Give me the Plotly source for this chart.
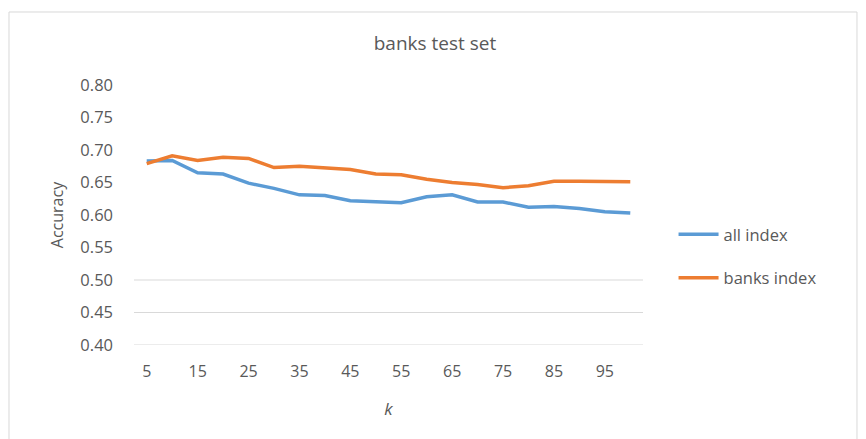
import plotly.graph_objects as go

k_values = [5, 10, 15, 20, 25, 30, 35, 40, 45, 50, 55, 60, 65, 70, 75, 80, 85, 90, 95, 100]
all_index = [0.683, 0.684, 0.665, 0.663, 0.649, 0.641, 0.631, 0.630, 0.622, 0.621,
             0.619, 0.628, 0.631, 0.620, 0.620, 0.612, 0.613, 0.610, 0.605, 0.603]
banks_index = [0.679, 0.691, 0.684, 0.689, 0.687, 0.673, 0.675, 0.673, 0.670, 0.663,
               0.662, 0.655, 0.650, 0.647, 0.642, 0.645, 0.652, 0.652, 0.652, 0.651]
x_ticks = [5, 15, 25, 35, 45, 55, 65, 75, 85, 95]
y_ticks = [0.40, 0.45, 0.50, 0.55, 0.60, 0.65, 0.70, 0.75, 0.80]
grid_levels = [0.40, 0.45, 0.50]

FONT = "Open Sans"
TXT = "#595959"

fig = go.Figure()
fig.add_trace(go.Scatter(x=k_values, y=all_index, mode="lines", name="all index",
                         legendgroup="a", line=dict(color="#5B9BD5", width=3.5)))
fig.add_trace(go.Scatter(x=k_values, y=banks_index, mode="lines", name="banks index",
                         legendgroup="b", line=dict(color="#ED7D31", width=3.5)))

for g in grid_levels:
    fig.add_shape(type="line", xref="paper", x0=0, x1=1, yref="y", y0=g, y1=g,
                  line=dict(color="#d9d9d9", width=1), layer="below")

# chart border
fig.add_shape(type="rect", xref="paper", yref="paper",
              x0=-0.2456, x1=1.4204, y0=-0.40, y1=1.2808,
              line=dict(color="#d9d9d9", width=1))

fig.update_layout(
    width=866, height=439,
    margin=dict(l=134, r=223, t=85, b=94),
    paper_bgcolor="white", plot_bgcolor="white",
    font=dict(family=FONT, color=TXT, size=16),
    title=dict(text="banks test set", x=435/866, xanchor="center", y=1-43/439, yanchor="middle",
               font=dict(family=FONT, size=19, color=TXT)),
    xaxis=dict(range=[2.5, 102.5], tickvals=x_ticks, ticktext=[str(v) for v in x_ticks],
               showgrid=False, zeroline=False, showline=False, ticks="",
               ticklabelstandoff=15, tickfont=dict(size=16),
               title=dict(text="<i>k</i>", font=dict(size=17, color=TXT), standoff=22)),
    yaxis=dict(range=[0.40, 0.80], tickvals=y_ticks, tickformat=".2f",
               showgrid=False, zeroline=False, showline=False, ticks="",
               ticklabelstandoff=20, tickfont=dict(size=16.5),
               title=dict(text="Accuracy", font=dict(size=16, color=TXT), standoff=12)),
    legend=dict(x=1.06, xanchor="left", y=0.342, yanchor="middle",
                font=dict(size=16.5, color=TXT), itemwidth=40, tracegroupgap=19,
                bgcolor="rgba(0,0,0,0)"),
    showlegend=True,
)

fig.write_html("out.html")
